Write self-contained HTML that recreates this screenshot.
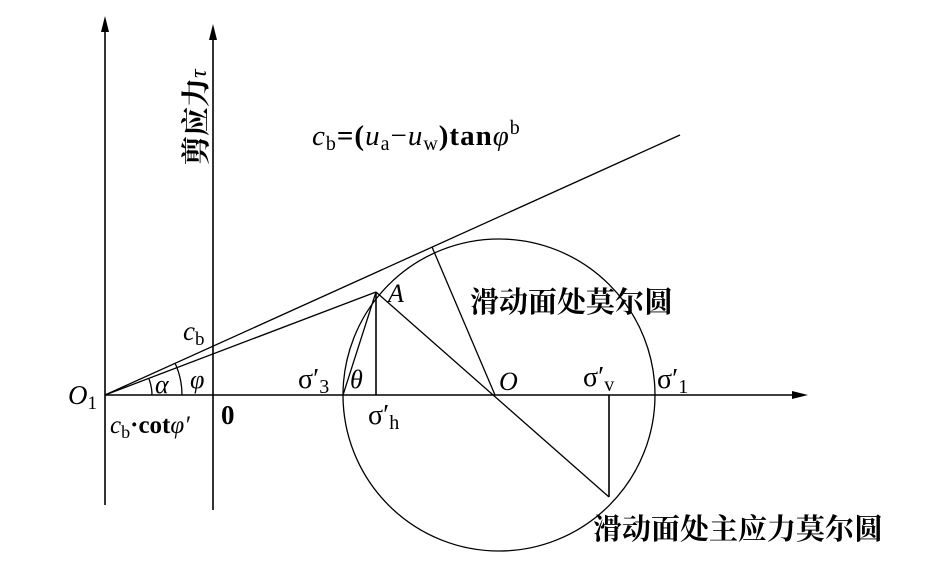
<!DOCTYPE html>
<html><head><meta charset="utf-8"><style>
body{margin:0;background:#fff}
svg{display:block}
text{font-family:"Liberation Serif","Noto Serif CJK SC",serif;fill:#000}
.cn{font-family:"Liberation Serif","Noto Serif CJK SC","Noto Sans CJK SC",serif;font-weight:bold}
</style></head><body>
<svg width="927" height="571" viewBox="0 0 927 571" xmlns="http://www.w3.org/2000/svg">
<g stroke="#000" fill="none" stroke-width="1.6">
<line x1="105" y1="505" x2="105" y2="28"/>
<line x1="213" y1="510" x2="213" y2="36"/>
<line x1="105" y1="395" x2="796" y2="395"/>
<circle cx="499" cy="395" r="156" stroke-width="1.3"/>
<line x1="105" y1="395" x2="680" y2="135" stroke-width="1.3"/>
<line x1="105" y1="395" x2="376" y2="292" stroke-width="1.3"/>
<line x1="376" y1="292" x2="343" y2="395" stroke-width="1.3"/>
<line x1="376" y1="292" x2="376" y2="395" stroke-width="1.6"/>
<line x1="376" y1="292" x2="609" y2="497" stroke-width="1.3"/>
<line x1="432" y1="247" x2="495" y2="395" stroke-width="1.3"/>
<line x1="609" y1="395" x2="609" y2="497" stroke-width="1.6"/>
<path d="M152,395 A47,47 0 0 0 149,379" stroke-width="1.3"/>
<path d="M182,395 A77,77 0 0 0 175,363" stroke-width="1.3"/>
</g>
<g fill="#000">
<polygon points="105,16 101,32 109,32"/>
<polygon points="213,24 209,40 217,40"/>
<polygon points="808,395 792,391 792,399"/>
</g>
<text class="cn" font-size="29" transform="translate(206,165) rotate(-90)">剪应力<tspan font-style="italic" font-weight="normal" font-size="24">τ</tspan></text>
<text x="312" y="145" font-size="29" letter-spacing="1"><tspan font-style="italic">c</tspan><tspan font-size="20" dy="5">b</tspan><tspan dy="-5" font-weight="bold">=(</tspan><tspan font-style="italic">u</tspan><tspan font-size="20" dy="5">a</tspan><tspan dy="-5">−</tspan><tspan font-style="italic">u</tspan><tspan font-size="20" dy="5">w</tspan><tspan dy="-5" font-weight="bold">)tan</tspan><tspan font-style="italic">φ</tspan><tspan font-size="20" dy="-11">b</tspan></text>
<text class="cn" x="470" y="312" font-size="29">滑动面处莫尔圆</text>
<text class="cn" x="593" y="539" font-size="29">滑动面处主应力莫尔圆</text>
<text x="388" y="302" font-size="26" font-style="italic">A</text>
<text x="183" y="340" font-size="27"><tspan font-style="italic">c</tspan><tspan font-size="19" dy="5">b</tspan></text>
<text x="68" y="404" font-size="27"><tspan font-style="italic">O</tspan><tspan font-size="19" dy="5">1</tspan></text>
<text x="155" y="393" font-size="26" font-style="italic">α</text>
<text x="190" y="388" font-size="26" font-style="italic">φ</text>
<text x="110" y="433" font-size="25"><tspan font-style="italic">c</tspan><tspan font-size="18" dy="5">b</tspan><tspan dy="-5" font-weight="bold">·cot</tspan><tspan font-style="italic">φ′</tspan></text>
<text x="221" y="424" font-size="27" font-weight="bold">0</text>
<text x="298" y="388" font-size="28">σ′<tspan font-size="20" dy="5">3</tspan></text>
<text x="350" y="388" font-size="26" font-style="italic">θ</text>
<text x="368" y="424" font-size="28">σ′<tspan font-size="20" dy="5">h</tspan></text>
<text x="499" y="390" font-size="26" font-style="italic">O</text>
<text x="583" y="386" font-size="28">σ′<tspan font-size="20" dy="5">v</tspan></text>
<text x="657" y="388" font-size="28">σ′<tspan font-size="20" dy="5">1</tspan></text>
</svg>
</body></html>
